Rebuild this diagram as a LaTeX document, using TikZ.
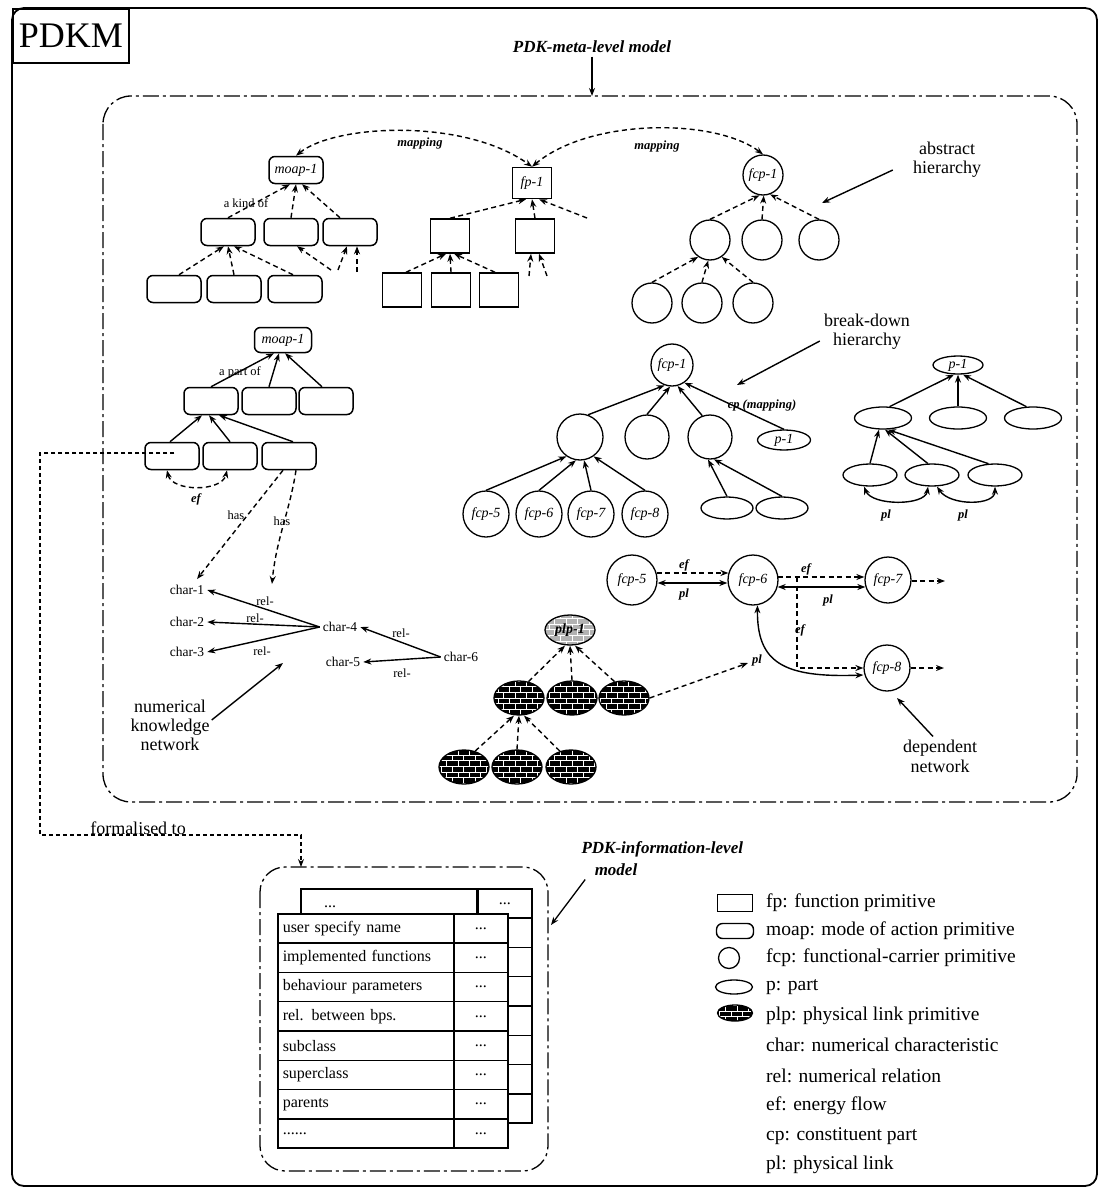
\documentclass[tikz,border=0pt]{standalone}
\usepackage{fontspec}
\setmainfont{Liberation Serif}
\usetikzlibrary{arrows.meta,shapes.geometric,patterns,calc}
\newcommand{\myfs}[1]{\fontsize{#1}{#1}\selectfont}
\newcommand{\mydots}{...}
\begin{document}
\begin{tikzpicture}[x=1pt,y=-1pt,
  >={Stealth[length=8pt,width=6pt]},
  lab/.style={font=\myfs{12.5}\bfseries\itshape, inner sep=1pt},
  labu/.style={font=\myfs{12.5}, inner sep=1pt},
  nm/.style={font=\myfs{14}\itshape},
  chr/.style={font=\myfs{13.5}, inner sep=3pt},
  big/.style={font=\fontsize{18}{19}\selectfont, align=center, inner sep=0pt},
  moapbox/.style={draw, line width=1.5pt, rounded corners=6pt, minimum width=54pt, minimum height=27pt, inner sep=0pt},
  fpbox/.style={draw, line width=1.5pt, minimum width=39pt, minimum height=34pt, inner sep=0pt},
  fcpc/.style={draw, circle, line width=1.3pt, minimum size=41pt, inner sep=0pt},
  pell/.style={draw, ellipse, line width=1.3pt, minimum width=54pt, minimum height=21pt, inner sep=0pt},
  plpell/.style={draw, ellipse, line width=1.3pt, minimum width=50pt, minimum height=34pt, inner sep=0pt, preaction={fill=black}, pattern=bricks, pattern color=white},
  dsh/.style={dash pattern=on 5pt off 3.5pt, line width=1.4pt},
  sol/.style={line width=1.4pt},
  legend/.style={font=\myfs{19.5}, anchor=west, inner sep=0pt},
  cellL/.style={draw, line width=1.5pt, fill=white, anchor=north west, text width=166pt, minimum height=29.3pt, inner sep=5pt, align=left, font=\myfs{16}},
  cellR/.style={draw, line width=1.5pt, fill=white, anchor=north west, minimum width=54pt, minimum height=29.3pt, inner sep=0pt, font=\myfs{16}},
  dashdot/.style={line width=1.3pt, dash pattern=on 16pt off 4pt on 3pt off 4pt},
]
\useasboundingbox (0,0) rectangle (1101,1196);

% outer frame
\draw[line width=1.8pt, rounded corners=12pt] (12,8) rectangle (1097,1186);
\node[draw, line width=1.8pt, anchor=north west, minimum width=116pt, minimum height=54pt, inner sep=0pt, font=\myfs{36}] (pdkm) at (12,8) {PDKM};

% meta-level model
\node[font=\myfs{17}\bfseries\itshape] (mtitle) at (592,47) {PDK-meta-level model};
\coordinate (mtop) at (592,96);
\draw[->, line width=1.3pt] (mtitle.south) -- (mtop);
\draw[dashdot, rounded corners=28pt] (103,96) rectangle (1077,802);

% ---------- abstract moap tree
\node[moapbox, nm] (am0) at (296,170) {moap-1};
\node[moapbox] (am1) at (228,232) {};
\node[moapbox] (am2) at (291,232) {};
\node[moapbox] (am3) at (350,232) {};
\node[moapbox] (am4) at (174,289) {};
\node[moapbox] (am5) at (234,289) {};
\node[moapbox] (am6) at (295,289) {};
\draw[dsh,->] (am1.north) -- ($(am0.south)+(-6,0)$);
\draw[dsh,->] (am2.north) -- (am0.south);
\draw[dsh,->] ($(am3.north)+(-10,0)$) -- ($(am0.south)+(6,0)$);
\node[labu] (akind) at (246,203) {a kind of};
\draw[dsh,->] ($(am4.north)+(5,0)$) -- ($(am1.south)+(-4,0)$);
\draw[dsh,->] (am5.north) -- (am1.south);
\draw[dsh,->] ($(am6.north)+(-2,0)$) -- ($(am1.south)+(6,0)$);
\coordinate (s1) at (331,270); \draw[dsh,->] (s1) -- ($(am2.south)+(6,0)$);
\coordinate (s2) at (338,270); \draw[dsh,->] (s2) -- ($(am3.south)+(-3,0)$);
\coordinate (s3) at (357,272); \draw[dsh,->] (s3) -- ($(am3.south)+(7,0)$);

% ---------- fp tree
\node[fpbox, nm, minimum height=31pt] (f0) at (532,183) {fp-1};
\node[fpbox] (f1) at (450,236) {};
\node[fpbox] (f2) at (535,236) {};
\node[fpbox] (f3) at (402,290) {};
\node[fpbox] (f4) at (451,290) {};
\node[fpbox] (f5) at (499,290) {};
\draw[dsh,->] (f1.north) -- ($(f0.south)+(-6,0)$);
\draw[dsh,->] (f2.north) -- (f0.south);
\coordinate (s4) at (587,218); \draw[dsh,->] (s4) -- ($(f0.south)+(7,0)$);
\draw[dsh,->] ($(f3.north)+(4,0)$) -- ($(f1.south)+(-4,0)$);
\draw[dsh,->] (f4.north) -- (f1.south);
\draw[dsh,->] ($(f5.north)+(-4,0)$) -- ($(f1.south)+(4,0)$);
\coordinate (s5) at (529,276); \draw[dsh,->] (s5) -- ($(f2.south)+(-4,0)$);
\coordinate (s6) at (547,276); \draw[dsh,->] (s6) -- ($(f2.south)+(4,0)$);

% ---------- fcp abstract tree
\node[fcpc, nm, minimum size=40pt] (c0) at (763,175) {fcp-1};
\node[fcpc, minimum size=40pt] (c1) at (710,240) {};
\node[fcpc, minimum size=40pt] (c2) at (762,240) {};
\node[fcpc, minimum size=40pt] (c3) at (819,240) {};
\node[fcpc, minimum size=40pt] (c4) at (652,303) {};
\node[fcpc, minimum size=40pt] (c5) at (702,303) {};
\node[fcpc, minimum size=40pt] (c6) at (753,303) {};
\draw[dsh,->] (c1.north) -- (c0.-100);
\draw[dsh,->] (c2.north) -- (c0.-88);
\draw[dsh,->] (c3.north) -- (c0.-70);
\draw[dsh,->] (c4.north) -- (c1.-125);
\draw[dsh,->] (c5.north) -- (c1.-95);
\draw[dsh,->] (c6.north) -- (c1.-55);

% mapping arcs
\draw[dsh,<->] (am0.north) .. controls (335,124) and (465,118) .. (f0.north);
\draw[dsh,<->] (f0.north) .. controls (590,118) and (715,118) .. (c0.north);
\node[lab] (map1) at (420,143) {mapping};
\node[lab] (map2) at (657,146) {mapping};

% abstract hierarchy label
\node[big] (absh) at (947,160) {abstract\\hierarchy};
\coordinate (absa) at (822,203);
\draw[->, line width=1.4pt] ($(absh.west)+(-20,10)$) -- (absa);

% ---------- part-of moap tree
\node[moapbox, nm, minimum width=57pt, minimum height=25pt] (pm0) at (283,340) {moap-1};
\node[moapbox] (pm1) at (211,401) {};
\node[moapbox] (pm2) at (269,401) {};
\node[moapbox] (pm3) at (326,401) {};
\node[moapbox] (pm4) at (172,456) {};
\node[moapbox] (pm5) at (230,456) {};
\node[moapbox] (pm6) at (289,456) {};
\draw[sol,->] (pm1.north) -- ($(pm0.south)+(-9,0)$);
\draw[sol,->] (pm2.north) -- ($(pm0.south)+(-4,0)$);
\draw[sol,->] ($(pm3.north)+(-4,0)$) -- ($(pm0.south)+(2,0)$);
\node[labu] (apart) at (240,372) {a part of};
\draw[sol,->] ($(pm4.north)+(-2,0)$) -- ($(pm1.south)+(-9,0)$);
\draw[sol,->] (pm5.north) -- ($(pm1.south)+(-2,0)$);
\draw[sol,->] ($(pm6.north)+(4,0)$) -- ($(pm1.south)+(8,0)$);
\draw[dsh,<->] ($(pm4.south)+(-5,0)$) .. controls (172,492) and (222,492) .. ($(pm5.south)+(-3,0)$);
\node[lab] (efm) at (196,499) {ef};

% chars
\node[chr] (ch1) at (187,590) {char-1};
\node[chr] (ch2) at (187,622) {char-2};
\node[chr] (ch3) at (187,652) {char-3};
\node[chr] (ch4) at (340,627) {char-4};
\node[chr] (ch5) at (343,662) {char-5};
\node[chr] (ch6) at (461,657) {char-6};
\draw[dsh,->] ($(pm6.south)+(-6,0)$) -- ($(ch1.north)+(10,-3)$);
\coordinate (hasend) at (272,584);
\draw[dsh,->] ($(pm6.south)+(7,0)$) .. controls (290,510) and (276,540) .. (hasend);
\node[labu] (has1) at (236,515) {has};
\node[labu] (has2) at (282,521) {has};
\draw[sol,->] (ch4.west) -- (ch1.east);
\draw[sol,->] (ch4.west) -- (ch2.east);
\draw[sol,->] (ch4.west) -- (ch3.east);
\draw[sol,->] (ch6.west) -- (ch4.east);
\draw[sol,->] (ch6.west) -- (ch5.east);
\node[labu] (r1) at (265,601) {rel-};
\node[labu] (r2) at (255,618) {rel-};
\node[labu] (r3) at (262,651) {rel-};
\node[labu] (r4) at (401,633) {rel-};
\node[labu] (r5) at (402,673) {rel-};

\node[big] (nkn) at (170,725) {numerical\\knowledge\\network};
\coordinate (nkna) at (283,663);
\draw[->, line width=1.4pt] ($(nkn.east)+(2,-5)$) -- (nkna);

% ---------- break-down tree
\node[fcpc, nm, minimum size=42pt] (b0) at (672,365) {fcp-1};
\node[fcpc, minimum size=46pt] (b1) at (580,437) {};
\node[fcpc, minimum size=44pt] (b2) at (647,437) {};
\node[fcpc, minimum size=44pt] (b3) at (710,437) {};
\node[pell, nm, minimum width=53pt, minimum height=20pt] (bp) at (784,440) {p-1};
\node[fcpc, nm, minimum size=46pt] (b4) at (486,514) {fcp-5};
\node[fcpc, nm, minimum size=46pt] (b5) at (539,514) {fcp-6};
\node[fcpc, nm, minimum size=46pt] (b6) at (591,514) {fcp-7};
\node[fcpc, nm, minimum size=46pt] (b7) at (645,514) {fcp-8};
\node[pell, minimum width=52pt, minimum height=22pt] (b8) at (727,508) {};
\node[pell, minimum width=52pt, minimum height=22pt] (b9) at (782,508) {};
\draw[sol,->] (b1.70) -- (b0.-110);
\draw[sol,->] (b2.north) -- (b0.-95);
\draw[sol,->] (b3.110) -- (b0.-75);
\draw[sol,->] (bp.north) -- (b0.-55);
\node[lab] (cpm) at (762,405) {cp (mapping)};
\draw[sol,->] (b4.north) -- (b1.-125);
\draw[sol,->] (b5.north) -- (b1.-100);
\draw[sol,->] (b6.north) -- (b1.-80);
\draw[sol,->] (b7.north) -- (b1.-55);
\draw[sol,->] (b8.north) -- (b3.-95);
\draw[sol,->] (b9.north) -- (b3.-80);

\node[big] (bdh) at (867,332) {break-down\\hierarchy};
\coordinate (bdha) at (737,385);
\draw[->, line width=1.4pt] ($(bdh.west)+(-4,9)$) -- (bdha);

% ---------- p tree
\node[pell, nm, minimum width=50pt, minimum height=18pt] (p0) at (958,365) {p-1};
\node[pell, minimum width=57pt, minimum height=22pt] (p1) at (883,418) {};
\node[pell, minimum width=57pt, minimum height=22pt] (p2) at (958,418) {};
\node[pell, minimum width=57pt, minimum height=22pt] (p3) at (1033,418) {};
\node[pell, minimum width=54pt, minimum height=22pt] (p4) at (870,475) {};
\node[pell, minimum width=54pt, minimum height=22pt] (p5) at (932,475) {};
\node[pell, minimum width=54pt, minimum height=22pt] (p6) at (995,475) {};
\draw[sol,->] (p1.60) -- ($(p0.south)+(-4,0)$);
\draw[sol,->] (p2.north) -- (p0.south);
\draw[sol,->] (p3.120) -- ($(p0.south)+(5,0)$);
\draw[sol,->] (p4.north) -- ($(p1.south)+(-4,0)$);
\draw[sol,->] (p5.110) -- ($(p1.south)+(2,0)$);
\draw[sol,->] (p6.120) -- ($(p1.south)+(5,0)$);
\draw[sol,<->] ($(p4.south)+(-6,0)$) .. controls (872,506) and (925,506) .. ($(p5.south)+(-4,0)$);
\draw[sol,<->] ($(p5.south)+(5,0)$) .. controls (950,506) and (995,506) .. (p6.south);
\node[lab] (pl1) at (886,515) {pl};
\node[lab] (pl2) at (963,515) {pl};

% ---------- plp tree
\node[plpell, minimum height=30pt, preaction={fill=black!30}, font=\myfs{14}\bfseries\itshape] (l0) at (570,630) {plp-1};
\node[plpell] (l1) at (519,698) {};
\node[plpell] (l2) at (572,698) {};
\node[plpell] (l3) at (624,698) {};
\node[plpell] (l4) at (464,767) {};
\node[plpell] (l5) at (517,767) {};
\node[plpell] (l6) at (571,767) {};
\draw[dsh,->] (l1.60) -- ($(l0.south)+(-5,0)$);
\draw[dsh,->] (l2.north) -- (l0.south);
\draw[dsh,->] (l3.120) -- ($(l0.south)+(5,0)$);
\draw[dsh,->] (l4.55) -- ($(l1.south)+(-5,0)$);
\draw[dsh,->] (l5.north) -- (l1.south);
\draw[dsh,->] (l6.125) -- ($(l1.south)+(5,0)$);

% ---------- dependent network
\node[fcpc, nm, minimum size=50pt] (d5) at (632,580) {fcp-5};
\node[fcpc, nm, minimum size=50pt] (d6) at (753,580) {fcp-6};
\node[fcpc, nm, minimum size=46pt] (d7) at (888,580) {fcp-7};
\node[fcpc, nm, minimum size=46pt] (d8) at (887,668) {fcp-8};
\draw[dsh,->] ($(d5.east)+(-1,-7)$) -- ($(d6.west)+(1,-7)$);
\node[lab] (ef1) at (684,565) {ef};
\draw[sol,<->] ($(d5.east)+(0,3)$) -- ($(d6.west)+(0,3)$);
\node[lab] (pla) at (684,594) {pl};
\draw[dsh,->] ($(d6.east)+(-1,-3)$) -- ($(d7.west)+(0,-3)$);
\node[lab] (ef2) at (806,569) {ef};
\draw[sol,<->] ($(d6.east)+(-1,7)$) -- ($(d7.west)+(1,7)$);
\node[lab] (plb) at (828,600) {pl};
\coordinate (d7x) at (945,581); \draw[dsh,->] ($(d7.east)+(0,1)$) -- (d7x);
\coordinate (d8x) at (944,668); \draw[dsh,->] (d8.east) -- (d8x);
\coordinate (efb) at (797,577); \draw[dsh,->] (efb) |- (d8.west);
\node[lab] (ef3) at (800,630) {ef};
\draw[sol,<->] (d6.-80) .. controls (757,662) and (782,678) .. ($(d8.west)+(0,7)$);
\coordinate (plend) at (748,663);
\draw[dsh,->] (l3.east) -- (plend);
\node[lab] (plc) at (757,660) {pl};

\node[font=\fontsize{18}{20}\selectfont, align=center, inner sep=0pt] (dnet) at (940,756) {dependent\\network};
\coordinate (dneta) at (897,698);
\draw[->, line width=1.4pt] ($(dnet.north)+(-7,-3)$) -- (dneta);

% ---------- formalised to
\coordinate (fB) at (40,453);
\coordinate (fC) at (40,835);
\coordinate (fD) at (301,835);
\coordinate (fE) at (301,867);
\draw[dash pattern=on 4pt off 3pt, line width=1.1pt, ->] ($(pm4.west)+(30,-3)$) -- (fB) -- (fC) -- (fD) -- (fE);
\node[font=\myfs{18}, anchor=base, inner sep=0pt] (form) at (138,834) {formalised to};

% ---------- information-level model
\draw[dashdot, rounded corners=25pt] (260,867) rectangle (548,1171);
\node[font=\myfs{17}\bfseries\itshape, anchor=west] (it1) at (578,849) {PDK-information-level};
\node[font=\myfs{17}\bfseries\itshape] (it2) at (616,870) {model};
\coordinate (ita) at (551,925);
\draw[->, line width=1.3pt] ($(it2.south west)+(-6,0)$) -- (ita);

% back table
\node[cellL] (bk0) at (300,888) {};
\node[font=\myfs{16}, inner sep=0pt] (bkd1) at (330,907) {\mydots};
\node[cellR] (bkr0) at (477,888) {\mydots};
\node[cellL] (bk1) at (300,917.3) {};
\node[cellR] (bkr1) at (477,917.3) {};
\node[cellL] (bk2) at (300,946.6) {};
\node[cellR] (bkr2) at (477,946.6) {};
\node[cellL] (bk3) at (300,975.9) {};
\node[cellR] (bkr3) at (477,975.9) {};
\node[cellL] (bk4) at (300,1005.2) {};
\node[cellR] (bkr4) at (477,1005.2) {};
\node[cellL] (bk5) at (300,1034.5) {};
\node[cellR] (bkr5) at (477,1034.5) {};
\node[cellL] (bk6) at (300,1063.8) {};
\node[cellR] (bkr6) at (477,1063.8) {};
\node[cellL] (bk7) at (300,1093.1) {};
\node[cellR] (bkr7) at (477,1093.1) {};

% front table
\node[cellL] (fr0) at (277,913) {user specify name};
\node[cellR] (frr0) at (453,913) {\mydots};
\node[cellL] (fr1) at (277,942.3) {implemented functions};
\node[cellR] (frr1) at (453,942.3) {\mydots};
\node[cellL] (fr2) at (277,971.6) {behaviour parameters};
\node[cellR] (frr2) at (453,971.6) {\mydots};
\node[cellL] (fr3) at (277,1000.9) {rel. between bps.};
\node[cellR] (frr3) at (453,1000.9) {\mydots};
\node[cellL] (fr4) at (277,1030.2) {subclass};
\node[cellR] (frr4) at (453,1030.2) {\mydots};
\node[cellL] (fr5) at (277,1059.5) {superclass};
\node[cellR] (frr5) at (453,1059.5) {\mydots};
\node[cellL] (fr6) at (277,1088.8) {parents};
\node[cellR] (frr6) at (453,1088.8) {\mydots};
\node[cellL] (fr7) at (277,1118.1) {\mydots\mydots};
\node[cellR] (frr7) at (453,1118.1) {\mydots};

% ---------- legend
\node[draw, line width=1.2pt, minimum width=35pt, minimum height=17pt, inner sep=0pt] (lg1) at (735,903) {};
\node[legend] (lt1) at (766,903) {fp: function primitive};
\node[draw, line width=1.4pt, rounded corners=6pt, minimum width=37pt, minimum height=15pt, inner sep=0pt] (lg2) at (735,931) {};
\node[legend] (lt2) at (766,931) {moap: mode of action primitive};
\node[draw, circle, line width=1.3pt, minimum size=21pt, inner sep=0pt] (lg3) at (729,958) {};
\node[legend] (lt3) at (766,958) {fcp: functional-carrier primitive};
\node[draw, ellipse, line width=1.3pt, minimum width=37pt, minimum height=14pt, inner sep=0pt] (lg4) at (734,987) {};
\node[legend] (lt4) at (766,987) {p: part};
\node[draw, ellipse, line width=1.3pt, minimum width=35pt, minimum height=16pt, inner sep=0pt, preaction={fill=black}, pattern=bricks, pattern color=white] (lg5) at (735,1013) {};
\node[legend] (lt5) at (766,1016) {plp: physical link primitive};
\node[legend] (lt6) at (766,1045) {char: numerical characteristic};
\node[legend] (lt7) at (766,1076) {rel: numerical relation};
\node[legend] (lt8) at (766,1106) {ef: energy flow};
\node[legend] (lt9) at (766,1136) {cp: constituent part};
\node[legend] (lt10) at (766,1165) {pl: physical link};
\end{tikzpicture}
\end{document}
